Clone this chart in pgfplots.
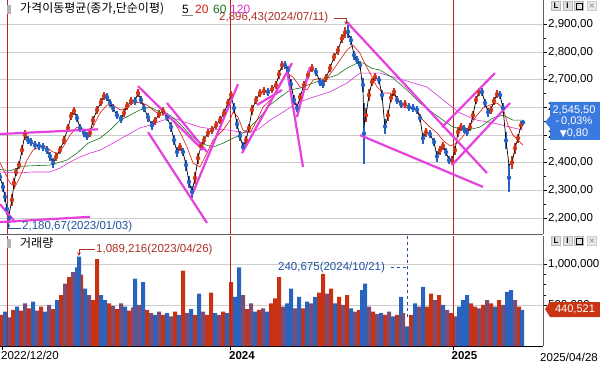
\documentclass[border=0pt]{standalone}
\usepackage{pgfplots}
\pgfplotsset{compat=1.18}
\usepackage{fontspec}
\setmainfont{Liberation Sans}
\newfontfamily\cjk{Noto Sans CJK KR}
\newfontfamily\sym{DejaVu Sans}
\usetikzlibrary{arrows.meta}
\definecolor{cred}{RGB}{208,52,22}
\definecolor{cblue}{RGB}{36,98,196}
\definecolor{vred}{RGB}{200,50,18}
\definecolor{vblue}{RGB}{40,100,190}
\definecolor{vpurp}{RGB}{122,76,118}
\definecolor{ma20}{RGB}{215,25,20}
\definecolor{ma60}{RGB}{25,115,25}
\definecolor{ma120}{RGB}{215,50,215}
\definecolor{trend}{RGB}{230,64,222}
\definecolor{yearred}{RGB}{190,32,32}
\definecolor{gridc}{RGB}{205,205,205}
\definecolor{annred}{RGB}{172,48,36}
\definecolor{annblue}{RGB}{32,82,160}
\definecolor{boxblue}{RGB}{58,122,222}
\definecolor{boxred}{RGB}{200,52,20}
\begin{document}
\begin{tikzpicture}
\path[use as bounding box] (0,0) rectangle (600pt,-366pt);
% ---------------- price panel ----------------
\begin{axis}[
  at={(0pt,0pt)}, anchor=north west,
  scale only axis, width=543pt, height=234pt,
  xmin=0, xmax=543, ymin=2142, ymax=2987,
  axis x line*=bottom, axis y line*=right,
  axis line style={gray!75!black},
  xtick=\empty,
  ytick={2200,2300,2400,2500,2600,2700,2800,2900},
  minor y tick num=1,
  ymajorgrids, major grid style={gridc},
  tick align=outside, major tick length=4pt, minor tick length=3pt,
  tick style={black},
  yticklabel style={font=\fontsize{11.5}{12}\selectfont, inner sep=1pt,
    /pgf/number format/fixed, /pgf/number format/fixed zerofill,
    /pgf/number format/precision=2, /pgf/number format/use comma,
    /pgf/number format/1000 sep={,}, /pgf/number format/assume math mode=true},
  clip=false,
]
% year separators
\draw[yearred, line width=0.9pt] (axis cs:7.3,2142) -- (axis cs:7.3,2987);
\draw[yearred, line width=0.9pt] (axis cs:230.5,2142) -- (axis cs:230.5,2987);
\draw[yearred, line width=0.9pt] (axis cs:453,2142) -- (axis cs:453,2987);
% candles: up (red)
\addplot[cred, only marks, mark=none, forget plot, error bars/.cd, y dir=both, y explicit, error mark=none,
  error bar style={line width=1.5pt, color=cred, solid}] coordinates {
(12,2265) +- (0,22) (14,2326) +- (0,20) (16,2366) +- (0,16) (19,2391) +- (0,16) (22,2445) +- (0,18) (25,2500) +- (0,18)
(56,2420) +- (0,16) (60,2445) +- (0,14) (64,2481) +- (0,14) (68,2525) +- (0,16) (71,2568) +- (0,16) (74,2586) +- (0,14)
(90,2507) +- (0,14) (93,2553) +- (0,16) (97,2590) +- (0,16) (101,2618) +- (0,14) (104,2640) +- (0,14)
(124,2579) +- (0,14) (127,2604) +- (0,14) (131,2622) +- (0,14) (138,2651) +- (0,16) (155,2550) +- (0,14) (159,2575) +- (0,14)
(163,2586) +- (0,14) (180,2456) +- (0,16) (195,2344) +- (0,22) (198,2416) +- (0,20) (201,2460) +- (0,16) (204,2481) +- (0,14)
(208,2507) +- (0,14) (212,2517) +- (0,14) (216,2535) +- (0,14) (220,2553) +- (0,14) (224,2579) +- (0,14) (228,2615) +- (0,16)
(231,2644) +- (0,16) (246,2481) +- (0,16) (249,2525) +- (0,16) (252,2590) +- (0,18) (256,2626) +- (0,14) (260,2651) +- (0,14)
(264,2658) +- (0,14) (272,2665) +- (0,14) (276,2680) +- (0,14) (279,2719) +- (0,16) (282,2752) +- (0,16) (300,2636) +- (0,16)
(304,2680) +- (0,14) (308,2716) +- (0,14) (312,2741) +- (0,14) (326,2705) +- (0,14) (330,2741) +- (0,14) (334,2781) +- (0,14)
(338,2806) +- (0,16) (342,2849) +- (0,16) (345,2870) +- (0,20) (366,2571) +- (0,25) (369,2644) +- (0,20) (372,2691) +- (0,16)
(375,2709) +- (0,14) (388,2571) +- (0,20) (391,2633) +- (0,16) (394,2655) +- (0,14) (405,2611) +- (0,14) (426,2510) +- (0,16)
(440,2445) +- (0,16) (443,2460) +- (0,14) (452,2409) +- (0,14) (455,2445) +- (0,16) (458,2510) +- (0,18) (461,2528) +- (0,14)
(470,2528) +- (0,14) (473,2571) +- (0,16) (476,2626) +- (0,16) (479,2655) +- (0,14) (491,2590) +- (0,14) (494,2622) +- (0,14)
(497,2647) +- (0,14) (512,2400) +- (0,25) (515,2452) +- (0,20) (518,2488) +- (0,16) (521,2535) +- (0,14)
};
% candles: down (blue)
\addplot[cblue, only marks, mark=none, forget plot, error bars/.cd, y dir=both, y explicit, error mark=none,
  error bar style={line width=1.5pt, color=cblue, solid}] coordinates {
(0,2348) +- (0,15) (3,2312) +- (0,18) (5,2276) +- (0,18) (7,2232) +- (0,20) (9,2200) +- (0,20) (28,2481) +- (0,15)
(31,2474) +- (0,14) (35,2463) +- (0,14) (39,2460) +- (0,14) (43,2456) +- (0,14) (47,2445) +- (0,14) (50,2423) +- (0,16)
(53,2398) +- (0,18) (77,2561) +- (0,16) (80,2525) +- (0,16) (84,2507) +- (0,14) (87,2496) +- (0,14) (107,2636) +- (0,14)
(110,2615) +- (0,14) (113,2597) +- (0,14) (117,2571) +- (0,14) (121,2557) +- (0,14) (135,2622) +- (0,14) (141,2626) +- (0,16)
(144,2597) +- (0,16) (148,2564) +- (0,16) (152,2535) +- (0,16) (167,2564) +- (0,14) (171,2528) +- (0,18) (174,2481) +- (0,18)
(177,2438) +- (0,18) (183,2438) +- (0,16) (186,2391) +- (0,20) (189,2330) +- (0,22) (192,2294) +- (0,22) (234,2597) +- (0,18)
(237,2539) +- (0,18) (240,2496) +- (0,18) (243,2456) +- (0,18) (268,2655) +- (0,14) (285,2752) +- (0,15) (288,2734) +- (0,15)
(291,2683) +- (0,18) (294,2626) +- (0,18) (297,2597) +- (0,16) (316,2727) +- (0,14) (320,2691) +- (0,14) (323,2683) +- (0,14)
(348,2872) +- (0,24) (351,2842) +- (0,16) (354,2788) +- (0,16) (357,2770) +- (0,14) (360,2752) +- (0,14) (363,2680) +- (0,25)
(364,2505) +- (0,110) (379,2698) +- (0,14) (382,2644) +- (0,18) (385,2530) +- (0,28) (397,2626) +- (0,14) (401,2611) +- (0,14)
(409,2600) +- (0,14) (413,2597) +- (0,14) (417,2590) +- (0,14) (420,2561) +- (0,16) (423,2488) +- (0,20) (430,2503) +- (0,14)
(434,2474) +- (0,16) (437,2423) +- (0,20) (446,2438) +- (0,16) (449,2409) +- (0,16) (464,2521) +- (0,14) (467,2510) +- (0,14)
(482,2655) +- (0,16) (485,2615) +- (0,16) (488,2582) +- (0,16) (500,2644) +- (0,14) (503,2597) +- (0,18) (506,2480) +- (0,30)
(509,2345) +- (0,50) (523,2545) +- (0,10)
};
% MA120
\addplot[ma120, line width=0.6pt, mark=none] coordinates {
(0,2366)(17,2362)(33,2366)(50,2366)(60,2380)(70,2402)(80,2420)(90,2434)(100,2445)(113,2470)(127,2499)(140,2525)
(150,2535)(163,2553)(173,2561)(185,2546)(200,2528)(213,2521)(230,2517)(243,2507)(257,2517)(270,2553)(283,2582)
(297,2615)(313,2636)(330,2655)(347,2687)(360,2723)(380,2723)(410,2691)(427,2673)(443,2626)(460,2579)(477,2553)
(493,2543)(510,2528)(523,2517)};
% MA60
\addplot[ma60, line width=0.6pt, mark=none] coordinates {
(0,2375)(10,2370)(23,2387)(50,2391)(67,2409)(77,2434)(88,2470)(100,2488)(110,2517)(120,2553)(130,2571)(140,2590)
(150,2600)(160,2582)(170,2571)(180,2540)(190,2500)(200,2470)(213,2456)(223,2470)(233,2488)(240,2499)(247,2517)
(260,2564)(270,2608)(280,2636)(290,2662)(300,2669)(313,2687)(327,2705)(337,2716)(347,2741)(357,2759)(363,2760)
(372,2740)(380,2734)(393,2705)(407,2662)(420,2615)(433,2579)(443,2553)(453,2528)(467,2517)(480,2528)(493,2561)
(503,2571)(513,2553)(523,2553)};
% MA20
\addplot[ma20, line width=0.6pt, mark=none] coordinates {
(0,2400)(10,2326)(15,2312)(20,2348)(27,2409)(33,2445)(43,2463)(53,2438)(58,2434)(63,2456)(70,2499)(77,2528)(87,2517)
(93,2528)(100,2579)(107,2608)(113,2608)(120,2590)(127,2597)(133,2615)(140,2618)(147,2608)(153,2590)(160,2571)
(167,2571)(173,2553)(180,2510)(187,2456)(193,2398)(200,2384)(207,2434)(213,2481)(223,2517)(230,2553)(233,2582)
(238,2564)(243,2517)(250,2507)(257,2553)(263,2600)(273,2636)(280,2687)(287,2723)(293,2709)(300,2673)(307,2662)
(313,2698)(320,2705)(327,2705)(333,2734)(340,2770)(347,2806)(353,2824)(360,2795)(363,2770)(370,2723)(377,2673)
(383,2651)(390,2651)(397,2636)(403,2600)(410,2597)(417,2590)(423,2553)(430,2528)(437,2507)(443,2480)(450,2460)
(457,2470)(463,2495)(470,2535)(477,2571)(483,2597)(490,2608)(497,2615)(503,2597)(508,2535)(513,2499)(518,2481)(523,2463)};
% MA5 (black)
\addplot[black, line width=0.7pt, mark=none] coordinates {
(0,2348)(3,2312)(5,2276)(7,2229)(9,2214)(12,2265)(14,2326)(16,2366)(19,2391)(22,2445)(25,2503)(28,2481)(31,2474)
(35,2463)(39,2460)(43,2456)(47,2445)(50,2423)(53,2398)(56,2420)(60,2445)(64,2481)(68,2525)(71,2568)(74,2586)(77,2561)
(80,2525)(84,2507)(87,2496)(90,2507)(93,2553)(97,2590)(101,2618)(104,2640)(107,2636)(110,2615)(113,2597)(117,2571)
(121,2557)(124,2579)(127,2604)(131,2622)(135,2622)(138,2651)(141,2626)(144,2597)(148,2564)(152,2535)(155,2550)
(159,2575)(163,2586)(167,2564)(171,2528)(174,2481)(177,2438)(180,2456)(183,2438)(186,2391)(189,2330)(192,2294)
(195,2344)(198,2416)(201,2460)(204,2481)(208,2507)(212,2517)(216,2535)(220,2553)(224,2579)(228,2615)(231,2644)
(234,2597)(237,2539)(240,2496)(243,2456)(246,2481)(249,2525)(252,2590)(256,2626)(260,2651)(264,2658)(268,2655)
(272,2665)(276,2680)(279,2719)(282,2752)(285,2752)(288,2734)(291,2683)(294,2626)(297,2597)(300,2636)(304,2680)
(308,2716)(312,2741)(316,2727)(320,2691)(323,2683)(326,2705)(330,2741)(334,2781)(338,2806)(342,2849)(345,2868)
(348,2868)(351,2842)(354,2788)(357,2770)(360,2752)(363,2662)(364,2535)(366,2571)(369,2644)(372,2691)(375,2709)
(379,2698)(382,2644)(385,2525)(388,2571)(391,2633)(394,2655)(397,2626)(401,2611)(405,2611)(409,2600)(413,2597)
(417,2590)(420,2561)(423,2488)(426,2510)(430,2503)(434,2474)(437,2423)(440,2445)(443,2460)(446,2438)(449,2409)
(452,2409)(455,2445)(458,2510)(461,2528)(464,2521)(467,2510)(470,2528)(473,2571)(476,2626)(479,2655)(482,2655)
(485,2615)(488,2582)(491,2590)(494,2622)(497,2647)(500,2644)(503,2597)(506,2481)(509,2391)(512,2398)(515,2452)
(518,2488)(521,2535)(523,2546)};
% user-drawn trend lines
\addplot[trend, line width=2.2pt, mark=none] coordinates {(0,2503)(98,2520)};
\addplot[trend, line width=2.2pt, mark=none] coordinates {(0,2185)(90,2204)};
\addplot[trend, line width=2.2pt, mark=none] coordinates {(0,2250)(15,2185)};
\addplot[trend, line width=2.2pt, mark=none] coordinates {(138,2676)(203,2445)};
\addplot[trend, line width=2.2pt, mark=none] coordinates {(167,2615)(207,2438)};
\addplot[trend, line width=2.2pt, mark=none] coordinates {(148,2510)(207,2182)};
\addplot[trend, line width=2.2pt, mark=none] coordinates {(192,2283)(238,2683)};
\addplot[trend, line width=2.2pt, mark=none] coordinates {(242,2434)(292,2759)};
\addplot[trend, line width=2.2pt, mark=none] coordinates {(257,2608)(282,2662)};
\addplot[trend, line width=2.2pt, mark=none] coordinates {(287,2734)(303,2384)};
\addplot[trend, line width=2.2pt, mark=none] coordinates {(297,2564)(310,2745)};
\addplot[trend, line width=2.2pt, mark=none] coordinates {(347,2907)(487,2362)};
\addplot[trend, line width=2.2pt, mark=none] coordinates {(360,2499)(483,2312)};
\addplot[trend, line width=2.2pt, mark=none] coordinates {(442,2528)(495,2723)};
\addplot[trend, line width=2.2pt, mark=none] coordinates {(452,2391)(510,2615)};
% annotations
\node[anchor=west, inner sep=0, text=annred, font=\fontsize{11.5}{12}\selectfont] at (axis cs:219,2922) {2,896,43(2024/07/11)};
\draw[annred, -{Stealth[length=3.5pt,width=3.5pt]}] (axis cs:334,2921) -- (axis cs:346,2921) -- (axis cs:346,2898);
\node[anchor=west, inner sep=0, text=annblue, font=\fontsize{11.5}{12}\selectfont] at (axis cs:22,2168) {2,180,67(2023/01/03)};
\draw[annblue, -{Stealth[length=3.5pt,width=3.5pt]}] (axis cs:21,2162) -- (axis cs:8.5,2162) -- (axis cs:8.5,2181);
\end{axis}
% ---------------- volume panel ----------------
\begin{axis}[
  at={(0pt,-236pt)}, anchor=north west,
  scale only axis, width=543pt, height=110pt,
  xmin=0, xmax=543, ymin=0, ymax=1341000,
  axis x line*=bottom, axis y line*=right,
  x axis line style={black}, y axis line style={gray!75!black},
  xtick={2.5,230.5,453},
  xticklabels={2022/12/20,\textbf{2024},\textbf{2025}},
  xticklabel style={anchor=north west, xshift=-2.5pt, inner sep=1pt, font=\fontsize{11.5}{12}\selectfont},
  ytick={500000,1000000}, minor y tick num=3,
  scaled y ticks=false,
  ymajorgrids, major grid style={gridc},
  tick align=outside, major tick length=4pt, minor tick length=3pt,
  tick style={black},
  yticklabel style={font=\fontsize{11.5}{12}\selectfont, inner sep=1pt,
    /pgf/number format/fixed, /pgf/number format/precision=0,
    /pgf/number format/1000 sep={,}, /pgf/number format/assume math mode=true},
  clip=false,
]
\addplot[ybar, bar width=4, bar shift=0pt, fill=vred, draw=none] coordinates {
(1,380000)(13,440000)(21,430000)(29,460000)(41,480000)(53,450000)(61,620000)(69,840000)(81,870000)(93,560000)
(97,1060000)(109,520000)(117,450000)(129,430000)(147,440000)(163,380000)(175,420000)(183,920000)(195,380000)
(207,380000)(211,650000)(223,420000)(231,780000)(247,450000)(259,440000)(271,520000)(275,580000)(279,840000)
(303,460000)(319,650000)(323,880000)(331,700000)(339,600000)(347,620000)(359,440000)(373,420000)(385,380000)
(397,380000)(411,380000)(427,480000)(431,640000)(439,620000)(451,400000)(471,520000)(475,480000)(483,500000)
(491,520000)(499,560000)(519,480000)};
\addplot[ybar, bar width=4, bar shift=0pt, fill=vblue, draw=none] coordinates {
(5,420000)(17,480000)(33,540000)(45,420000)(57,560000)(77,960000)(79,1089216)(85,700000)(101,620000)(105,560000)
(125,480000)(135,820000)(143,780000)(155,380000)(167,400000)(179,380000)(191,450000)(199,640000)(215,400000)
(227,400000)(235,600000)(239,960000)(255,420000)(267,420000)(287,520000)(291,700000)(299,600000)(307,540000)
(315,600000)(335,520000)(351,460000)(362,680000)(365,760000)(381,400000)(393,360000)(401,600000)(407,240675)
(415,520000)(423,720000)(443,500000)(459,480000)(463,560000)(467,620000)(495,480000)(507,660000)(511,680000)
(522,440521)};
\addplot[ybar, bar width=4, bar shift=0pt, fill=vpurp, draw=none] coordinates {
(9,350000)(25,520000)(37,430000)(49,500000)(65,760000)(73,900000)(89,620000)(113,490000)(121,520000)(133,470000)
(139,500000)(151,400000)(159,420000)(171,360000)(187,400000)(203,420000)(219,380000)(243,620000)(251,520000)
(263,460000)(283,480000)(295,460000)(311,520000)(327,640000)(343,500000)(355,420000)(369,480000)(377,390000)
(389,420000)(403,400000)(419,480000)(435,560000)(447,440000)(455,360000)(479,460000)(487,560000)(503,500000)
(515,560000)};
\draw[yearred, line width=0.9pt] (axis cs:7.3,0) -- (axis cs:7.3,1341000);
\draw[yearred, line width=0.9pt] (axis cs:230.5,0) -- (axis cs:230.5,1341000);
\draw[yearred, line width=0.9pt] (axis cs:453,0) -- (axis cs:453,1341000);
% annotations
\node[anchor=west, inner sep=0, text=annred, font=\fontsize{11.5}{12}\selectfont] at (axis cs:96,1180000) {1,089,216(2023/04/26)};
\draw[annred, -{Stealth[length=3.5pt,width=3.5pt]}] (axis cs:95,1180000) -- (axis cs:79,1180000) -- (axis cs:79,1100000);
\node[anchor=west, inner sep=0, text=annblue, font=\fontsize{11.5}{12}\selectfont] at (axis cs:278,962000) {240,675(2024/10/21)};
\draw[annblue, dashed] (axis cs:391,957000) -- (axis cs:407,957000);
\draw[annblue, dashed] (axis cs:407,1341000) -- (axis cs:407,350000);
\end{axis}
% ---------------- labels and boxes ----------------
\fill[gray!60] (7pt,-5pt) rectangle (11pt,-14pt);
\node[anchor=west, inner sep=0] at (20pt,-9pt) {\cjk\fontsize{12}{12}\selectfont 가격이동평균(종가,단순이평)};
\node[anchor=west, inner sep=0, font=\fontsize{12}{12}\selectfont] at (182pt,-9pt) {5};
\draw[gray, line width=0.8pt] (182pt,-15.5pt) -- (193pt,-15.5pt);
\node[anchor=west, inner sep=0, text=ma20, font=\fontsize{12}{12}\selectfont] at (195pt,-9pt) {20};
\node[anchor=west, inner sep=0, text=ma60, font=\fontsize{12}{12}\selectfont] at (213pt,-9pt) {60};
\node[anchor=west, inner sep=0, text=ma120, font=\fontsize{12}{12}\selectfont] at (230pt,-9pt) {120};
\fill[gray!60] (7pt,-239pt) rectangle (11pt,-248pt);
\node[anchor=west, inner sep=0] at (20pt,-243pt) {\cjk\fontsize{12}{12}\selectfont 거래량};
% window buttons
\foreach \yy in {6,241}{
  \node[fill=gray!25, draw=gray!55, minimum width=9pt, minimum height=9pt, inner sep=0, font=\bfseries\fontsize{8}{8}\selectfont] at (556pt,-\yy pt) {L};
  \node[fill=gray!25, draw=gray!55, minimum width=9pt, minimum height=9pt, inner sep=0, font=\bfseries\fontsize{8}{8}\selectfont] at (567.5pt,-\yy pt) {I};
  \node[fill=gray!25, draw=gray!55, minimum width=9pt, minimum height=9pt, inner sep=0] at (579pt,-\yy pt) {};
  \draw[black, line width=0.8pt] (576pt,-\yy pt+3pt) rectangle (582pt,-\yy pt-3pt);
  \node[fill=gray!15, draw=gray!40, minimum width=9pt, minimum height=9pt, inner sep=0, text=gray, font=\sym\fontsize{8}{8}\selectfont] at (592pt,-\yy pt) {×};
}
% last price box
\fill[boxblue] (545pt,-122pt) -- (550pt,-116pt) -- (550pt,-102pt) -- (600pt,-102pt) -- (600pt,-140pt) -- (550pt,-140pt) -- (550pt,-128pt) -- cycle;
\node[text=white, inner sep=0, font=\fontsize{11}{11}\selectfont] at (574pt,-110pt) {2,545,50};
\node[text=white, inner sep=0, font=\fontsize{11}{11}\selectfont] at (574pt,-121.5pt) {-\,0,03\%};
\node[text=white, inner sep=0, font=\fontsize{11}{11}\selectfont] at (574pt,-133pt) {{\sym\fontsize{9}{9}\selectfont ▼}0,80};
% last volume box
\fill[boxred] (545pt,-309pt) -- (550pt,-302pt) -- (600pt,-302pt) -- (600pt,-317pt) -- (550pt,-317pt) -- cycle;
\node[text=white, inner sep=0, font=\fontsize{11}{11}\selectfont] at (575pt,-309.5pt) {440,521};
% last date
\node[anchor=east, inner sep=0, font=\fontsize{11.5}{12}\selectfont] at (598pt,-357pt) {2025/04/28};
\end{tikzpicture}
\end{document}
